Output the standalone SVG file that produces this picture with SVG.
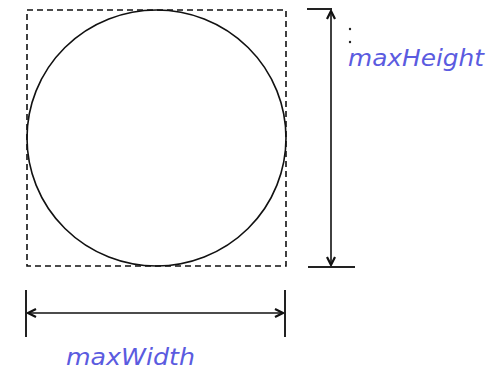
<svg xmlns="http://www.w3.org/2000/svg" width="497" height="373" viewBox="0 0 497 373">
<style>
.ln{stroke:#111;stroke-width:1.6;fill:none}
.tk{stroke:#222;stroke-width:2;fill:none}
.lbl{font-family:"DejaVu Sans","Liberation Sans",sans-serif;font-style:italic;font-size:23px;fill:#5b5be0}
</style>
<defs>
<marker id="ah" viewBox="0 0 10 10" refX="9" refY="5" markerWidth="10" markerHeight="10" markerUnits="userSpaceOnUse" orient="auto-start-reverse">
<path d="M1,1 L9,5 L1,9" fill="none" stroke="#111" stroke-width="2.2"/>
</marker>
</defs>
<g id="box">
<rect x="27" y="10" width="259" height="256" fill="none" stroke="#111" stroke-width="1.6" stroke-dasharray="6,4"/>
</g>
<g id="circle">
<ellipse cx="156.5" cy="138" rx="129.5" ry="128" class="ln"/>
</g>
<g id="connectors">
<line x1="307" y1="9" x2="332" y2="9" class="tk"/>
<line x1="308" y1="267" x2="355" y2="267" class="tk"/>
<line x1="331" y1="11" x2="331" y2="265" class="ln" marker-start="url(#ah)" marker-end="url(#ah)"/>
<line x1="26" y1="290" x2="26" y2="337" class="tk"/>
<line x1="285" y1="290" x2="285" y2="337" class="tk"/>
<line x1="28" y1="313" x2="283" y2="313" class="ln" marker-start="url(#ah)" marker-end="url(#ah)"/>
</g>
<g id="dots">
<circle cx="350" cy="29" r="1.2" fill="#222"/>
<circle cx="350" cy="42" r="1.2" fill="#222"/>
</g>
<g id="label-height">
<text x="348" y="66" class="lbl" textLength="136" lengthAdjust="spacingAndGlyphs">maxHeight</text>
</g>
<g id="label-width">
<text x="66" y="365" class="lbl" textLength="129" lengthAdjust="spacingAndGlyphs">maxWidth</text>
</g>
</svg>
